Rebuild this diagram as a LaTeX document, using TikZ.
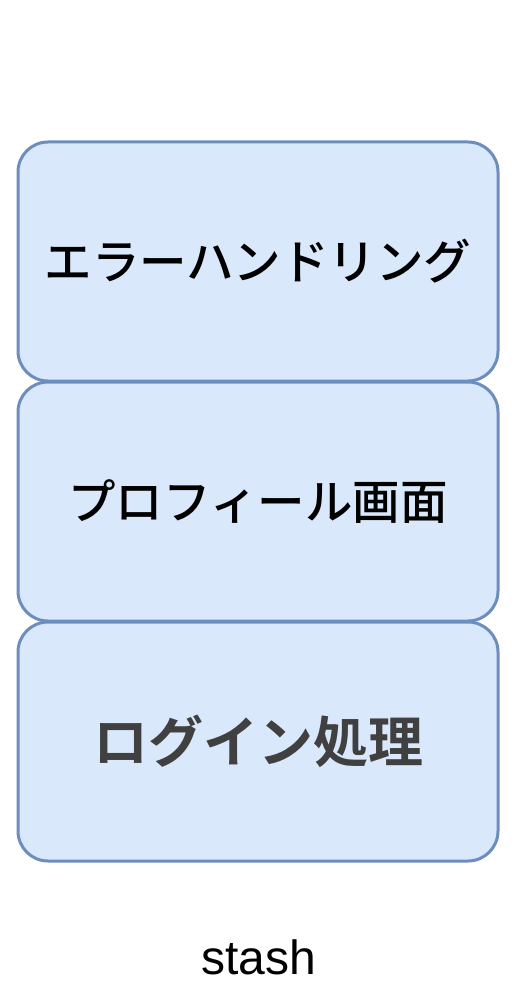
\documentclass[tikz,border=0pt]{standalone}
\usepackage{fontspec}
\setmainfont{Liberation Sans}
\newfontfamily\jpfont{Noto Sans CJK JP Medium}
\newfontfamily\jpboldfont{Noto Sans CJK JP Bold}
\usepackage{tikz}

\definecolor{boxfill}{HTML}{DAE8FC}
\definecolor{boxline}{HTML}{6C8EBF}
\definecolor{darktext}{HTML}{404040}

\tikzset{
    layer/.style={draw=boxline,fill=boxfill,line width=3pt,
        rounded corners=30pt,minimum width=480pt,minimum height=239pt,
        inner sep=0pt,font=\jpfont\fontsize{47.5}{56}\selectfont},
}

\begin{document}
\begin{tikzpicture}[x=1pt,y=1pt]
\useasboundingbox (0,0) rectangle (518,-1008);
\node [layer]                 (errors)  at (258,-261.5) {エラーハンドリング};
\node [layer]                 (profile) at (258,-501.5) {プロフィール画面};
\node [layer,text=darktext,
       font=\jpboldfont\fontsize{55}{64}\selectfont]
                              (login)   at (258,-741.5) {ログイン処理};
\node [font=\fontsize{48}{56}\selectfont]
                              (stash)   at (259,-957)   {stash};
\end{tikzpicture}
\end{document}
